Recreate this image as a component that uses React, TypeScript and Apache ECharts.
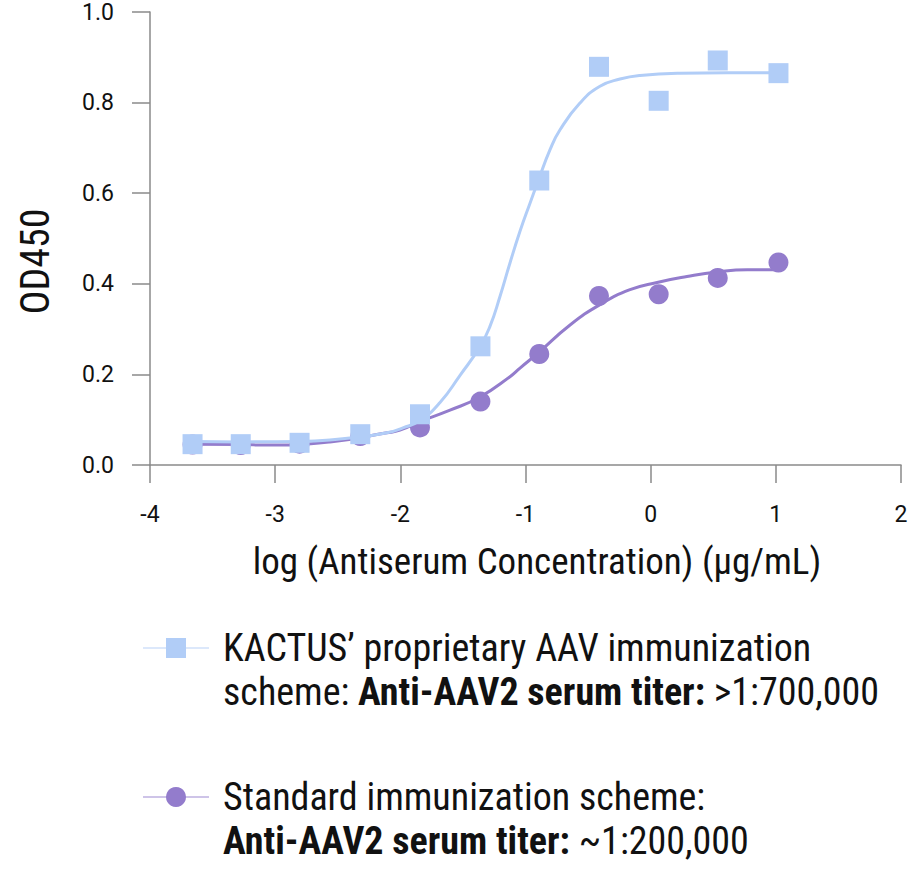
import React, { useEffect, useRef } from "react";
import * as echarts from "echarts";

const xTicks = [-4, -3, -2, -1, 0, 1, 2];
const yTicks = [0, 0.2, 0.4, 0.6, 0.8, 1.0];

const logConc = [-3.66, -3.275, -2.805, -2.32, -1.843, -1.36, -0.89, -0.413, 0.064, 0.536, 1.021];
const kactusOD = [0.046, 0.046, 0.049, 0.068, 0.112, 0.262, 0.628, 0.879, 0.804, 0.893, 0.865];
const standardOD = [0.045, 0.044, 0.047, 0.064, 0.083, 0.14, 0.245, 0.373, 0.377, 0.413, 0.447];

const kactusFitX = [-3.656, -3.281, -2.802, -2.562, -2.322, -2.107, -1.979, -1.843, -1.683, -1.523, -1.364, -1.284, -1.204, -1.124, -1.044, -0.964, -0.9, -0.804, -0.724, -0.565, -0.405, -0.245, -0.085, 0.234, 0.61, 1.017];
const kactusFit = [0.052, 0.051, 0.052, 0.055, 0.062, 0.071, 0.082, 0.098, 0.138, 0.198, 0.261, 0.306, 0.372, 0.446, 0.516, 0.578, 0.626, 0.696, 0.74, 0.799, 0.836, 0.852, 0.86, 0.865, 0.866, 0.866];

const standardFitX = [-3.656, -3.281, -3.041, -2.562, -2.107, -2.003, -1.843, -1.603, -1.364, -1.124, -1.044, -0.9, -0.644, -0.405, -0.165, 0.051, 0.29, 0.53, 0.77, 1.009];
const standardFit = [0.046, 0.045, 0.044, 0.051, 0.071, 0.077, 0.096, 0.121, 0.15, 0.195, 0.214, 0.247, 0.309, 0.354, 0.387, 0.403, 0.416, 0.426, 0.431, 0.431];

const kactusName = "KACTUS’ proprietary AAV immunization scheme";
const standardName = "Standard immunization scheme";
const legendText: Record<string, string> = {
  [kactusName]: "{n|KACTUS’ proprietary AAV immunization}\n{n|scheme: }{b|Anti-AAV2 serum titer:}{n| >1:700,000}",
  [standardName]: "{n|Standard immunization scheme:}\n{b|Anti-AAV2 serum titer:}{n| ~1:200,000}",
};

const BLUE = "#b1cdf7";
const PURPLE = "#937ccc";
const BIG_FONT = "'Liberation Sans Narrow', 'Roboto Condensed', Roboto, sans-serif";
const TICK_FONT = "Roboto, 'Liberation Sans', sans-serif";

export default function App() {
  const ref = useRef<HTMLDivElement>(null);
  useEffect(() => {
    document.body.style.margin = "0";
    if (!ref.current) return;
    const chart = echarts.init(ref.current, undefined, { renderer: "svg" });
    const zip = (xs: number[], ys: number[]) => xs.map((x, i) => [x, ys[i]]);
    chart.setOption({
      animation: false,
      backgroundColor: "#ffffff",
      grid: { left: 150, right: 11, top: 12, bottom: 424, containLabel: false },
      xAxis: {
        type: "value",
        min: xTicks[0],
        max: xTicks[xTicks.length - 1],
        interval: 1,
        name: "log (Antiserum Concentration) (µg/mL)",
        nameLocation: "middle",
        nameGap: 78,
        nameTextStyle: { fontFamily: BIG_FONT, fontSize: 37, color: "#111", padding: [0, 0, 0, 23] },
        axisLine: { show: true, onZero: false, lineStyle: { color: "#8a8a8a", width: 1.5 } },
        axisTick: { show: true, inside: false, length: 18, lineStyle: { color: "#8a8a8a", width: 1.5 } },
        axisLabel: { fontFamily: TICK_FONT, fontSize: 23, color: "#111", margin: 38 },
        splitLine: { show: false },
      },
      yAxis: {
        type: "value",
        min: yTicks[0],
        max: yTicks[yTicks.length - 1],
        interval: 0.2,
        name: "OD450",
        nameLocation: "middle",
        nameRotate: 90,
        nameGap: 95,
        nameTextStyle: { fontFamily: BIG_FONT, fontSize: 40, color: "#111", padding: [0, 46, 0, 0] },
        axisLine: { show: true, onZero: false, lineStyle: { color: "#8a8a8a", width: 1.5 } },
        axisTick: { show: true, inside: false, length: 18, lineStyle: { color: "#8a8a8a", width: 1.5 } },
        axisLabel: {
          fontFamily: TICK_FONT,
          fontSize: 23,
          color: "#111",
          margin: 36,
          formatter: (v: number) => v.toFixed(1),
        },
        splitLine: { show: false },
      },
      legend: {
        orient: "vertical",
        left: 142,
        top: 582,
        padding: 0,
        itemWidth: 66,
        itemHeight: 25,
        itemGap: 17,
        data: [kactusName, standardName],
        formatter: (name: string) => legendText[name] || name,
        lineStyle: { width: 2, opacity: 0.45 },
        textStyle: {
          fontFamily: BIG_FONT,
          fontSize: 38,
          lineHeight: 44,
          color: "#111",
          padding: [44, 0, 0, 9],
          rich: {
            n: { fontFamily: BIG_FONT, fontSize: 38, lineHeight: 44, color: "#111" },
            b: { fontFamily: BIG_FONT, fontSize: 38, lineHeight: 44, color: "#111", fontWeight: "bold" },
          },
        },
      },
      series: [
        {
          name: standardName,
          type: "line",
          data: zip(standardFitX, standardFit),
          smooth: 0.5,
          showSymbol: false,
          symbol: "circle",
          symbolSize: 20,
          lineStyle: { color: PURPLE, width: 3 },
          itemStyle: { color: PURPLE },
          z: 2,
        },
        {
          name: "Standard (data)",
          type: "scatter",
          data: zip(logConc, standardOD),
          symbol: "circle",
          symbolSize: 20,
          itemStyle: { color: PURPLE, opacity: 1 },
          z: 3,
        },
        {
          name: kactusName,
          type: "line",
          data: zip(kactusFitX, kactusFit),
          smooth: 0.5,
          showSymbol: false,
          symbol: "rect",
          symbolSize: 20,
          lineStyle: { color: BLUE, width: 3 },
          itemStyle: { color: BLUE },
          z: 4,
        },
        {
          name: "KACTUS (data)",
          type: "scatter",
          data: zip(logConc, kactusOD),
          symbol: "rect",
          symbolSize: 20,
          itemStyle: { color: BLUE, opacity: 1 },
          z: 5,
        },
      ],
    });
    return () => chart.dispose();
  }, []);
  return <div ref={ref} style={{ width: 912, height: 889 }} />;
}
